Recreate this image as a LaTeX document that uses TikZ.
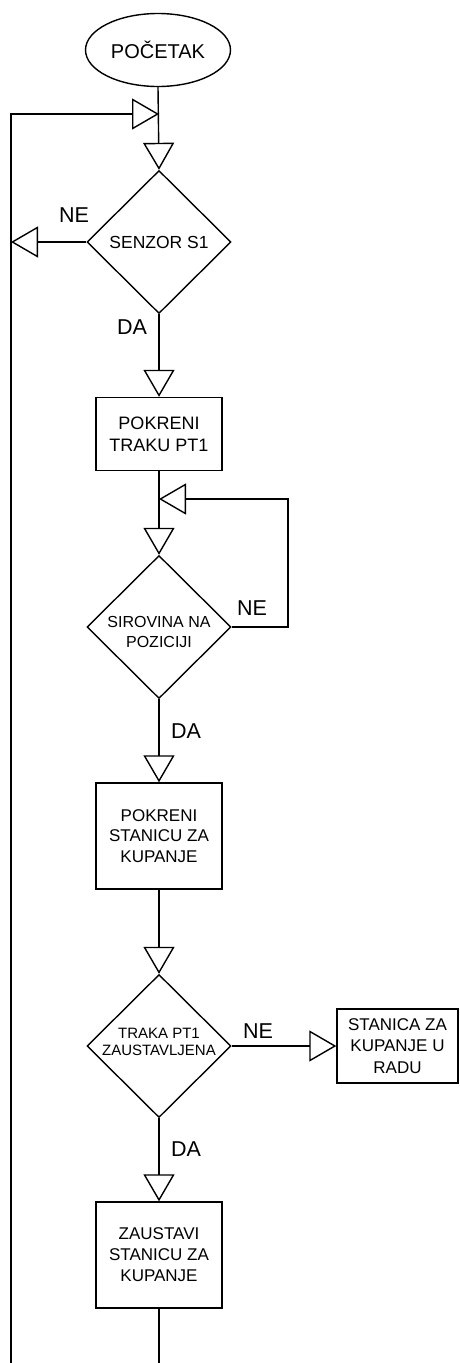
\documentclass[tikz,border=0pt]{standalone}
\usepackage{fontspec}
\setmainfont{Liberation Sans}
\usetikzlibrary{shapes.geometric,arrows.meta}
\begin{document}
\begin{tikzpicture}[x=1pt,y=-1pt,
  line width=1.4pt,
  arr/.style={-{Triangle[open,length=27pt,width=31pt]}},
  terminal/.style={draw,ellipse,minimum width=145pt,minimum height=73pt,inner sep=0pt,font=\fontsize{20}{24}\selectfont},
  decision/.style={draw,diamond,minimum width=144pt,minimum height=143pt,inner sep=0pt},
  procbox/.style={draw,rectangle,inner sep=0pt,align=center},
  lbl/.style={font=\fontsize{21.5}{24}\selectfont,inner sep=0pt}
]
\useasboundingbox (0,0) rectangle (459,1363);

% nodes
\node[terminal] (start) at (158,50) {POČETAK};
\node[decision] (d1) at (159,242) {};
\node[font=\fontsize{17.5}{21}\selectfont] (d1t) at (159,242) {SENZOR S1};
\node[procbox,minimum width=126pt,minimum height=73pt,font=\fontsize{18}{22}\selectfont] (b1) at (159,434) {POKRENI\\TRAKU PT1};
\node[decision] (d2) at (159,627) {};
\node[align=center,font=\fontsize{16}{20}\selectfont] (d2t) at (159,632) {SIROVINA NA\\POZICIJI};
\node[procbox,minimum width=126pt,minimum height=106pt,font=\fontsize{17}{20.5}\selectfont] (b2) at (159,836) {POKRENI\\STANICU ZA\\KUPANJE};
\node[decision] (d3) at (159,1046) {};
\node[align=center,font=\fontsize{15}{17.7}\selectfont] (d3t) at (159,1042) {TRAKA PT1\\ZAUSTAVLJENA};
\node[procbox,minimum width=121pt,minimum height=74pt,font=\fontsize{17}{21.5}\selectfont] (b3) at (397.5,1046) {STANICA ZA\\KUPANJE U\\RADU};
\node[procbox,minimum width=126pt,minimum height=106pt,font=\fontsize{17}{21}\selectfont] (b4) at (159,1255) {ZAUSTAVI\\STANICU ZA\\KUPANJE};

% labels
\node[lbl] (ne1) at (74,215) {NE};
\node[lbl] (da1) at (132,327) {DA};
\node[lbl] (ne2) at (252,608) {NE};
\node[lbl] (da2) at (186,731) {DA};
\node[lbl] (ne3) at (258,1031) {NE};
\node[lbl] (da3) at (186,1149) {DA};

% coordinates
\coordinate (j1) at (159,114);
\coordinate (lb) at (11,1363);
\coordinate (n1) at (11,242);
\coordinate (j2) at (159,499);
\coordinate (c2) at (288,499);
\coordinate (endb) at (159,1363);

% connectors
\draw[arr] (start.south) -- (d1.north);
\draw[arr] (lb) |- (j1);
\draw[arr] (d1.west) -- (n1);
\draw[arr] (d1.south) -- (b1.north);
\draw[arr] (b1.south) -- (d2.north);
\draw[arr] (d2.east) -| (c2) -- (j2);
\draw[arr] (d2.south) -- (b2.north);
\draw[arr] (b2.south) -- (d3.north);
\draw[arr] (d3.east) -- (b3.west);
\draw[arr] (d3.south) -- (b4.north);
\draw (b4.south) -- (endb);
\end{tikzpicture}
\end{document}
